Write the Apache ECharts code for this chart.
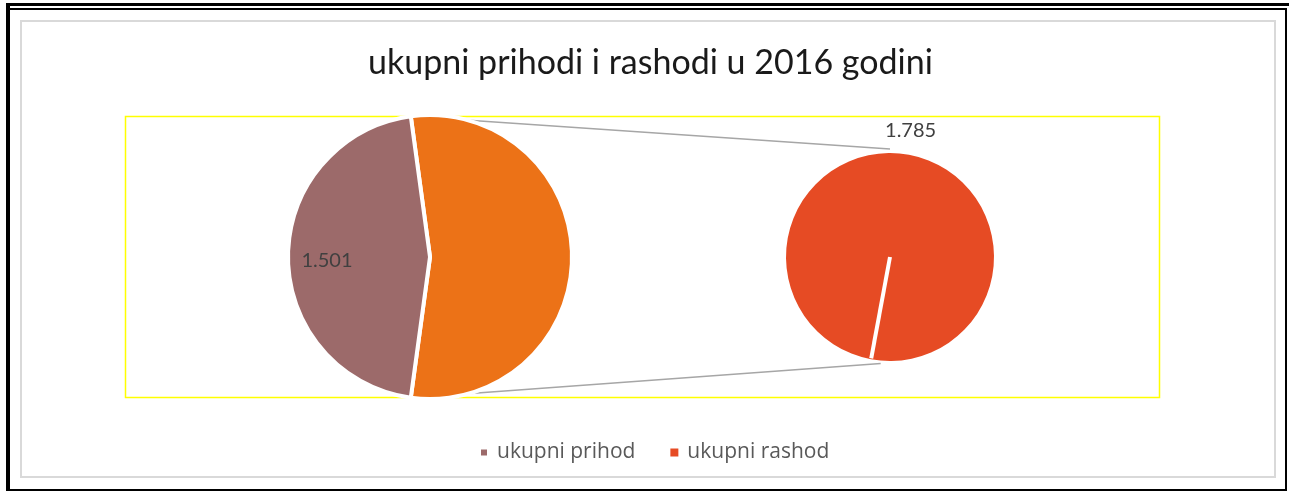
<!DOCTYPE html>
<html>
<head>
<meta charset="utf-8">
<script src="https://cdn.jsdelivr.net/npm/echarts@6/dist/echarts.min.js"></script>
<style>
html,body{margin:0;padding:0;background:#fff;}
#chart{width:1289px;height:491px;}
</style>
</head>
<body>
<div id="chart"></div>
<script>
// ---- data ----
const titleText = 'ukupni prihodi i rashodi u 2016 godini';
const categories = ['ukupni prihod', 'ukupni rashod'];
const values = [1.501, 1.785];
const otherName = 'Ostalo';           // aggregate slice of the first pie (= ukupni rashod)
const colors = ['#9c6a6a', '#e64b24'];
const otherColor = '#ec7217';

// ---- layout ----
const C1 = [430, 257], R1 = 142;
const C2 = [890, 257], R2 = 104;
const secondStart = 259.5;            // start angle of the single slice in pie 2

const total = values[0] + values[1];
const otherShare = values[1] / total;
const firstStart = otherShare * 360 / 2;   // "other" slice centred on the right

function pt(c, r, degCCW) {
  const a = degCCW * Math.PI / 180;
  return [c[0] + r * Math.cos(a), c[1] - r * Math.sin(a)];
}
const fmt = v => v.toFixed(3);

const chart = echarts.init(document.getElementById('chart'), null, {renderer: 'canvas'});

const slashEnd = pt(C2, R2 - 1, secondStart);
const topStart = pt(C1, R1 - 2, 80);
const botStart = pt(C1, R1 - 2, -79);
const topEnd = [C2[0], C2[1] - R2 - 4];
const botEnd = pt(C2, R2 + 3, 265);

const option = {
  backgroundColor: '#ffffff',
  animation: false,
  title: {
    text: titleText,
    left: 363,
    top: 41,
    textStyle: {fontFamily: 'Lato', fontSize: 34, fontWeight: 'normal', color: '#1a1a1a'}
  },
  legend: {
    data: categories,
    left: 474,
    top: 437,
    icon: 'rect',
    itemWidth: 8,
    itemHeight: 8,
    itemGap: 35,
    textStyle: {fontFamily: 'Open Sans', fontSize: 21, color: '#595959', padding: [0, 0, 0, 4]}
  },
  graphic: [
    {type: 'rect', z: 0, shape: {x: 6, y: 3, width: 4, height: 488}, style: {fill: '#000'}},
    {type: 'rect', z: 0, shape: {x: 6, y: 3, width: 1283, height: 3}, style: {fill: '#000'}},
    {type: 'rect', z: 0, shape: {x: 10, y: 8, width: 1276, height: 2}, style: {fill: '#000'}},
    {type: 'rect', z: 0, shape: {x: 1285, y: 8, width: 2, height: 483}, style: {fill: '#000'}},
    {type: 'rect', z: 0, shape: {x: 6, y: 489, width: 1281, height: 2}, style: {fill: '#000'}},
    {type: 'rect', z: 0, shape: {x: 21, y: 21, width: 1254, height: 456}, style: {fill: 'none', stroke: '#d9d9d9', lineWidth: 2}},
    {type: 'rect', z: 0, shape: {x: 125.5, y: 116.5, width: 1034, height: 281}, style: {fill: 'none', stroke: '#ffff00', lineWidth: 1.5}},
    {type: 'line', z: 1, shape: {x1: topStart[0], y1: topStart[1], x2: topEnd[0], y2: topEnd[1]}, style: {stroke: '#a6a6a6', lineWidth: 1.5}},
    {type: 'line', z: 1, shape: {x1: botStart[0], y1: botStart[1], x2: botEnd[0], y2: botEnd[1]}, style: {stroke: '#a6a6a6', lineWidth: 1.5}},
    {type: 'line', z: 100, shape: {x1: C2[0], y1: C2[1], x2: slashEnd[0], y2: slashEnd[1]}, style: {stroke: '#ffffff', lineWidth: 4}}
  ],
  series: [
    {
      type: 'pie',
      z: 2,
      center: C1,
      radius: R1,
      startAngle: firstStart,
      clockwise: true,
      avoidLabelOverlap: false,
      itemStyle: {borderColor: '#ffffff', borderWidth: 4},
      label: {
        show: true,
        position: 'inside',
        formatter: p => fmt(p.value),
        fontFamily: 'Lato', fontSize: 20, color: '#404040'
      },
      labelLayout: p => (p.dataIndex === 1 ? {dx: -29, dy: 4} : {}),
      emphasis: {disabled: true},
      data: [
        {name: otherName, value: values[1], itemStyle: {color: otherColor}, label: {show: false}},
        {name: categories[0], value: values[0], itemStyle: {color: colors[0]}}
      ]
    },
    {
      type: 'pie',
      z: 2,
      center: C2,
      radius: R2,
      startAngle: secondStart,
      clockwise: true,
      itemStyle: {borderColor: '#ffffff', borderWidth: 0},
      label: {
        show: true,
        position: 'outside',
        formatter: p => fmt(p.value),
        fontFamily: 'Lato', fontSize: 20, color: '#404040'
      },
      labelLine: {show: false, length: 20, length2: 0},
      labelLayout: {align: 'center', dx: -7, dy: -5},
      emphasis: {disabled: true},
      data: [
        {name: categories[1], value: values[1], itemStyle: {color: colors[1]}}
      ]
    }
  ]
};
chart.setOption(option);
</script>
</body>
</html>
